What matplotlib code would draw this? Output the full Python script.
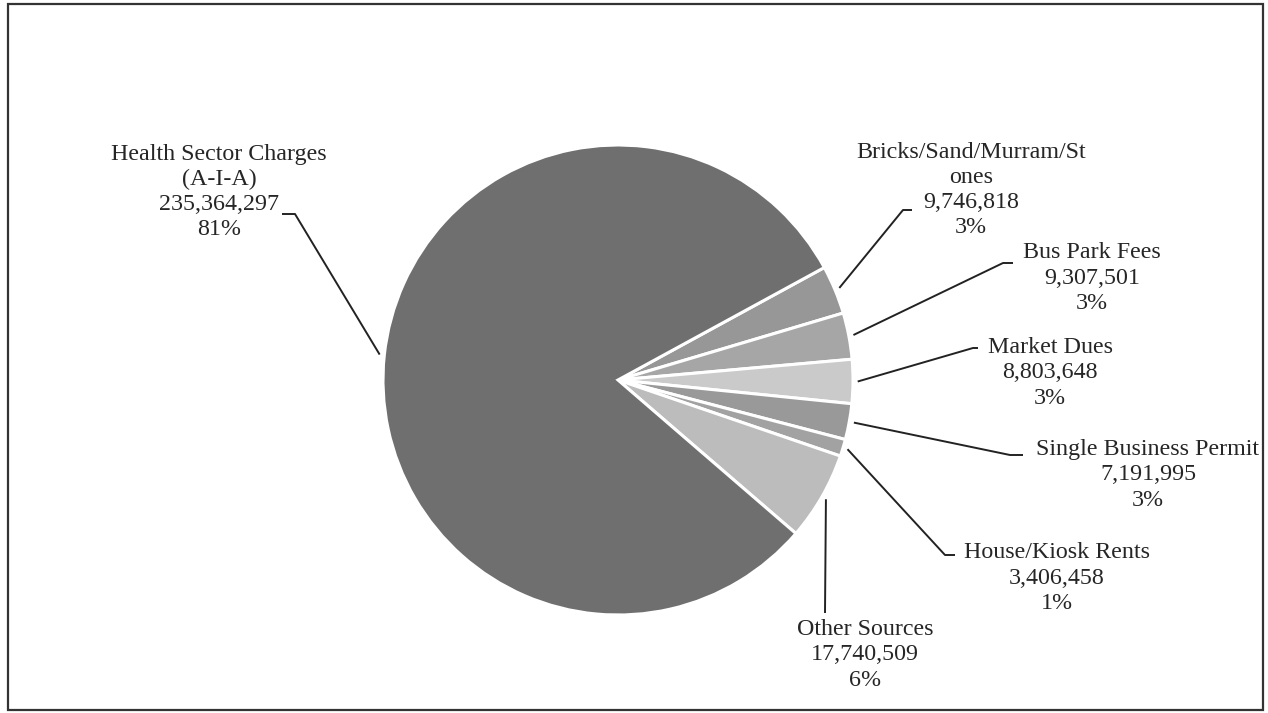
import matplotlib.pyplot as plt
from matplotlib.patches import Rectangle
import numpy as np

# revenue sources (clockwise from the top right)
labels = ['Bricks/Sand/Murram/St\nones', 'Bus Park Fees', 'Market Dues',
          'Single Business Permit', 'House/Kiosk Rents', 'Other Sources',
          'Health Sector Charges\n(A-I-A)']
values = [9746818, 9307501, 8803648, 7191995, 3406458, 17740509, 235364297]
percents = [3, 3, 3, 3, 1, 6, 81]  # as printed on the chart
colors = ['#979797', '#a6a6a6', '#cacaca', '#999999', '#a2a2a2', '#bcbcbc', '#6f6f6f']

W, H = 1268, 713
cx, cy, R = 618, 380, 235
start = 28.6

# label layout in pixels (y from top): text centre, elbow, tail end
text_pos = [(971, 190), (1092, 278), (1050, 373), (1148, 475),
            (1057, 578), (865, 655), (219, 192)]
elbows = [(903, 210), (1003, 263), (973, 348), (1010, 455),
          (945, 555), (825, 613), (295, 214)]
tails = [(912, 210), (1013, 263), (978, 348), (1023, 455),
         (955, 555), (825, 613), (282, 214)]

plt.rcParams['font.family'] = ['Liberation Serif', 'DejaVu Serif']

fig = plt.figure(figsize=(W / 100, H / 100), dpi=100)
ax = fig.add_axes([0, 0, 1, 1])

wedges, _ = ax.pie(values, colors=colors, startangle=start, counterclock=False,
                   center=(cx, H - cy), radius=R, frame=True,
                   wedgeprops=dict(edgecolor='white', linewidth=2.2))
ax.set_xlim(0, W)
ax.set_ylim(0, H)
ax.axis('off')

for i, w in enumerate(wedges):
    mid = np.deg2rad((w.theta1 + w.theta2) / 2)
    px = cx + R * 1.02 * np.cos(mid)
    py = (H - cy) + R * 1.02 * np.sin(mid)
    ex, ey = elbows[i]
    tx, ty = tails[i]
    ax.plot([px, ex, tx], [py, H - ey, H - ty], color='#222222', lw=1.4,
            solid_capstyle='butt')
    txt = '%s\n%s\n%d%%' % (labels[i], format(values[i], ','), percents[i])
    ax.text(text_pos[i][0], H - text_pos[i][1], txt, ha='center', va='center',
            fontsize=17.3, color='#262626', linespacing=1.26)

fig.patches.append(Rectangle((8 / W, 1 - 710 / H), 1255 / W, 706 / H,
                             transform=fig.transFigure, fill=False,
                             edgecolor='#333333', lw=1.6))

fig.savefig('out.png', dpi=100, facecolor='white')
